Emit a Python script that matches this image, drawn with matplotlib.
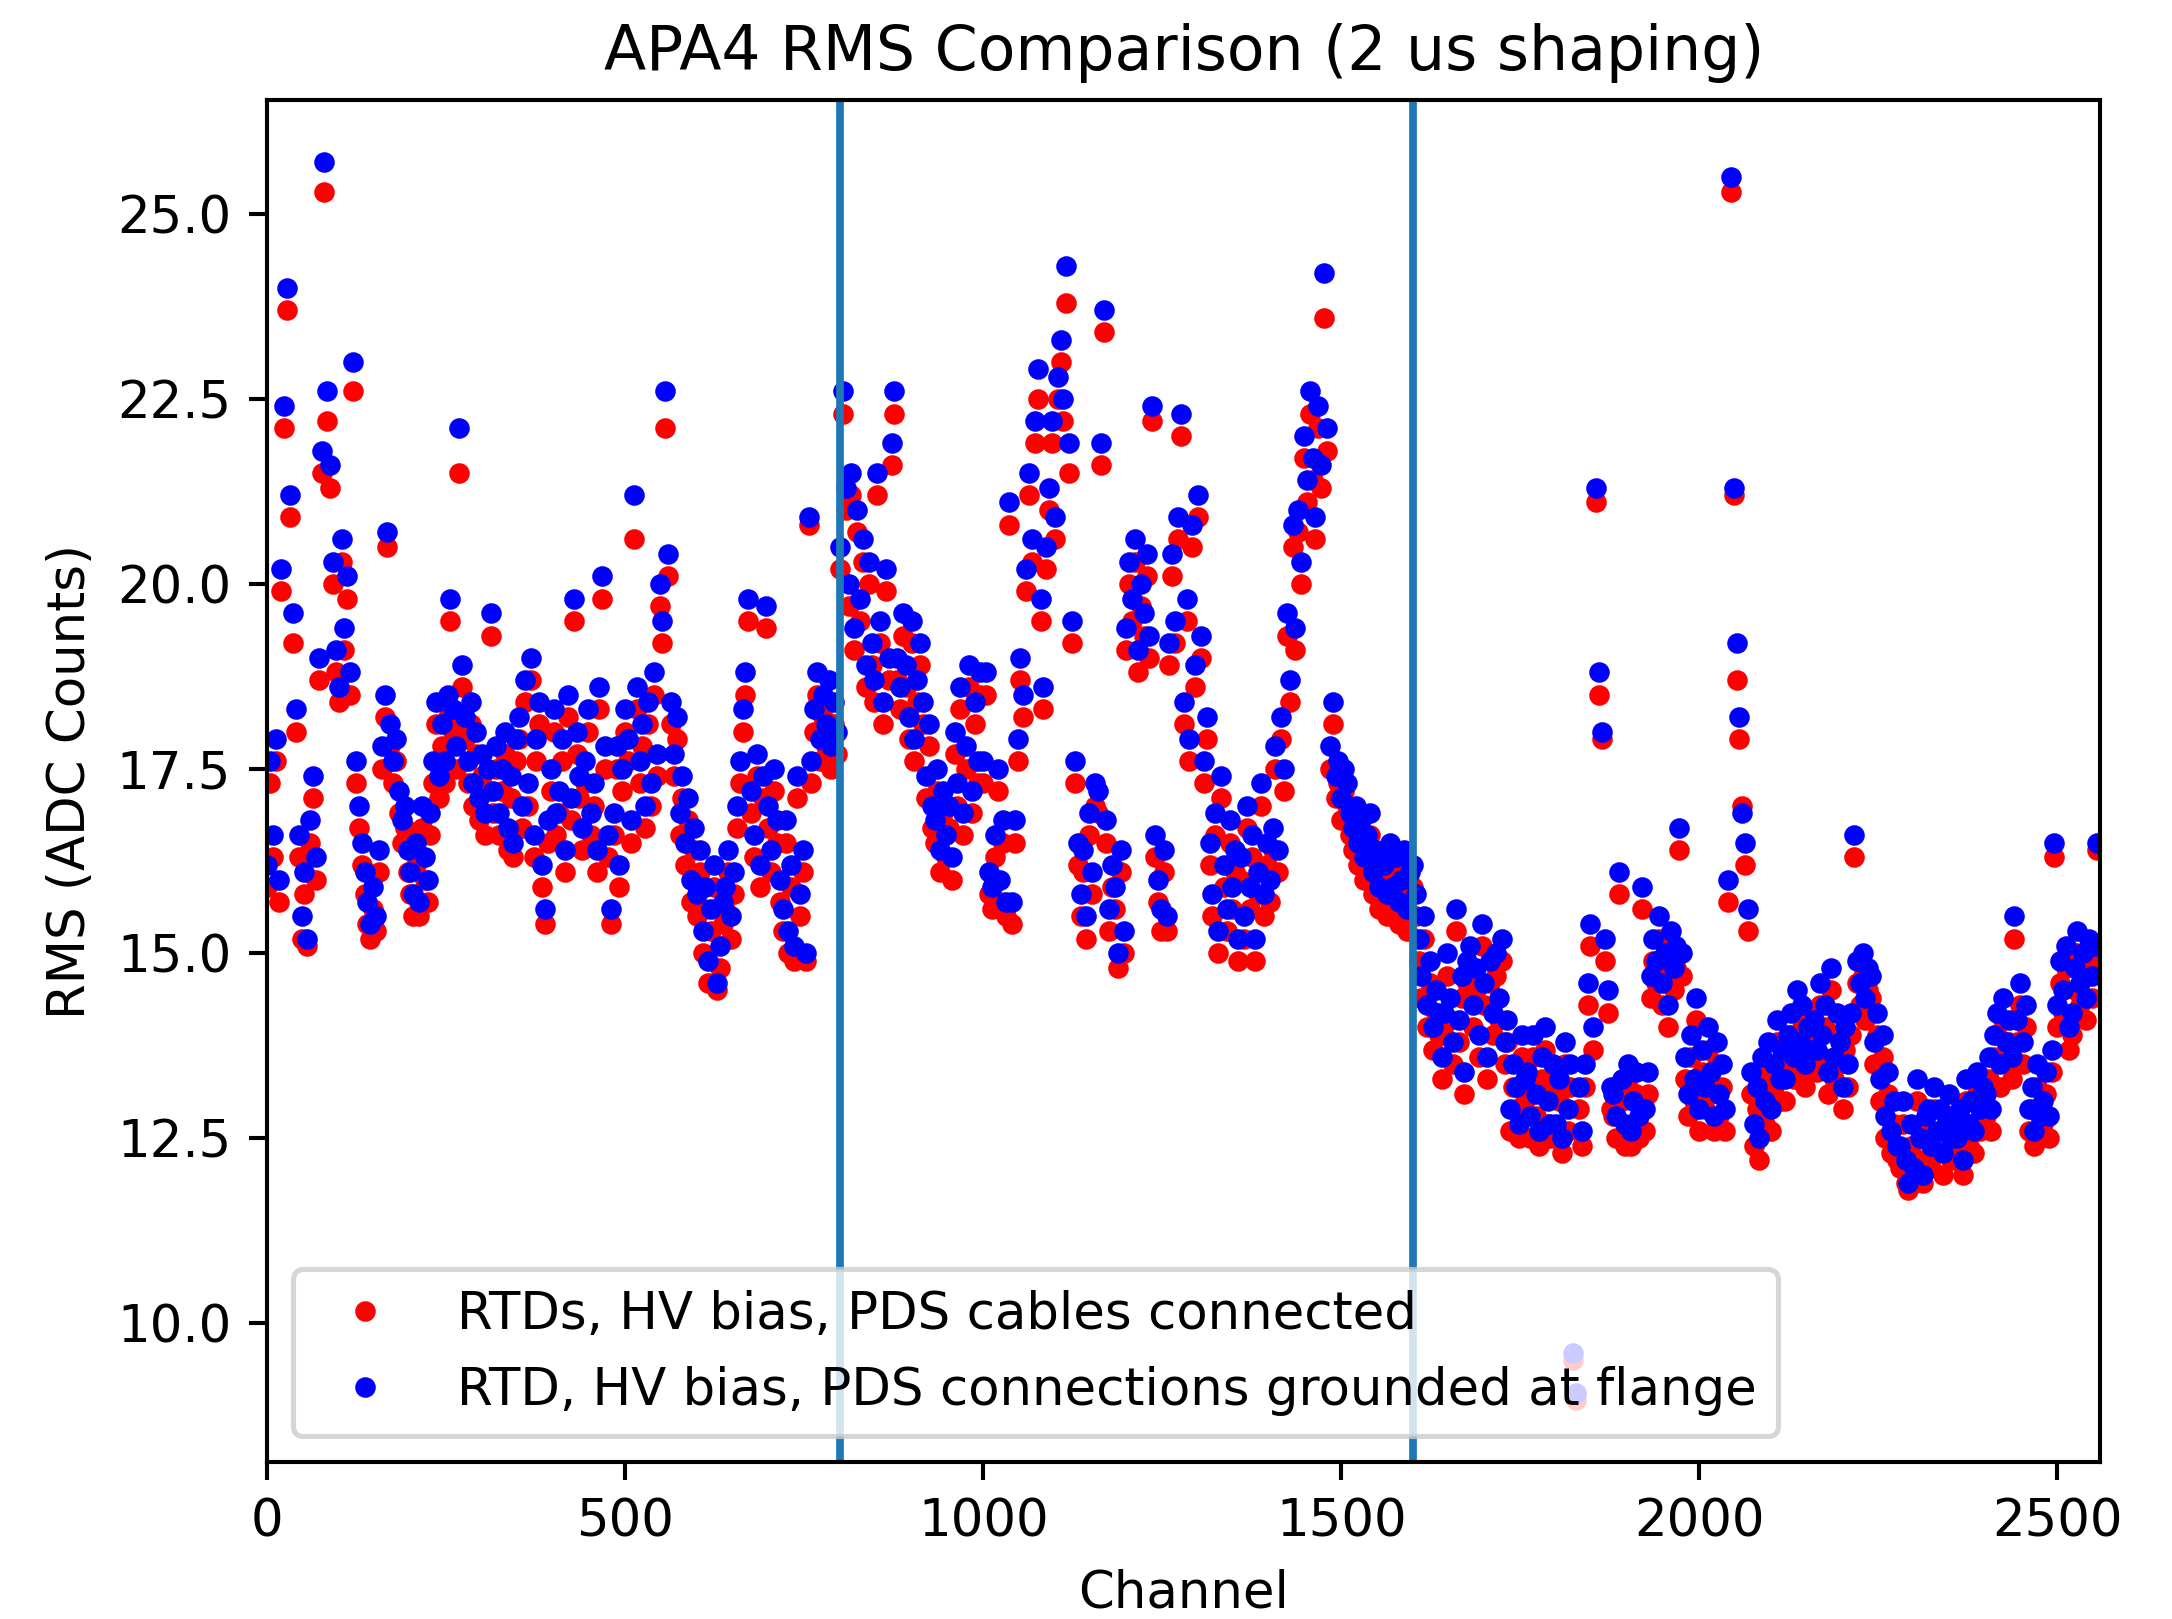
import numpy as np
import matplotlib
matplotlib.use("Agg")
import matplotlib.pyplot as plt

# Channel numbers (sampled every 4 channels)
channels = list(range(0, 2560, 4))

# ---- Blue: RTD, HV bias, PDS connections grounded at flange ----
blue_u = [
    16.2, 17.6, 16.6, 17.9, 16.0, 20.2, 22.4, 24.0, 21.2, 19.6,
    18.3, 16.6, 15.5, 16.1, 15.2, 16.8, 17.4, 16.3, 19.0, 21.8,
    25.7, 22.6, 21.6, 20.3, 19.1, 18.6, 20.6, 19.4, 20.1, 18.8,
    23.0, 17.6, 17.0, 16.5, 16.1, 15.7, 15.4, 15.9, 15.5, 16.4,
    17.8, 18.5, 20.7, 18.1, 17.6, 17.9, 17.2, 16.8, 17.0, 16.4,
    16.1, 15.8, 16.5, 15.7, 17.0, 16.3, 16.0, 16.9, 17.6, 18.4,
    17.4, 18.1, 17.6, 18.5, 19.8, 18.3, 17.8, 22.1, 18.9, 18.2,
    17.6, 18.4, 17.3, 18.0, 17.1, 17.7, 16.9, 17.5, 19.6, 17.2,
    17.8, 16.9, 17.5, 18.0, 16.7, 17.4, 16.5, 17.9, 18.2, 17.0,
    18.7, 17.3, 19.0, 16.6, 17.9, 18.4, 16.2, 15.6, 16.8, 17.5,
    18.3, 16.9, 17.2, 17.9, 16.4, 18.5, 17.1, 19.8, 18.0, 17.4,
    16.7, 17.6, 18.3, 16.9, 17.3, 16.4, 18.6, 20.1, 17.8, 16.6,
    15.6, 16.9, 17.8, 16.2, 17.5, 18.3, 17.9, 16.8, 21.2, 18.6,
    17.6, 18.1, 17.0, 18.4, 17.3, 18.8, 17.7, 20.0, 19.5, 22.6,
    20.4, 18.4, 17.7, 18.2, 16.9, 17.4, 16.5, 17.1, 16.0, 16.7,
    15.8, 16.4, 15.3, 15.9, 14.9, 15.6, 16.2, 14.6, 15.1, 15.7,
    15.9, 16.4, 15.5, 16.1, 17.0, 17.6, 18.3, 18.8, 19.8, 17.2,
    16.6, 17.7, 16.2, 17.4, 19.7, 17.0, 16.4, 17.5, 16.8, 16.0,
    15.6, 16.8, 15.3, 16.2, 15.1, 17.4, 15.8, 16.4, 15.0, 20.9,
    17.6, 18.3, 18.8, 17.9, 18.5, 18.1, 18.7, 17.8, 18.4, 18.0,
]
blue_v = [
    20.5, 22.6, 21.3, 20.0, 21.5, 19.4, 21.0, 19.8, 20.6, 18.9,
    20.3, 19.2, 18.7, 21.5, 19.5, 18.4, 20.2, 19.0, 21.9, 22.6,
    19.0, 18.6, 19.6, 18.9, 18.2, 19.5, 17.9, 18.7, 19.2, 18.4,
    17.4, 18.1, 17.0, 16.8, 17.5, 16.4, 17.2, 16.6, 17.0, 16.3,
    18.0, 17.3, 18.6, 16.9, 17.8, 18.9, 17.2, 18.4, 17.6, 18.8,
    17.6, 18.8, 16.1, 15.9, 16.6, 17.5, 16.0, 16.8, 15.7, 21.1,
    15.7, 16.8, 17.9, 19.0, 18.5, 20.2, 21.5, 20.6, 22.2, 22.9,
    19.8, 18.6, 20.5, 21.3, 22.2, 20.9, 22.8, 23.3, 22.5, 24.3,
    21.9, 19.5, 17.6, 16.5, 15.8, 16.4, 15.5, 16.9, 16.1, 17.3,
    17.2, 21.9, 23.7, 16.8, 15.6, 16.2, 15.9, 15.0, 16.4, 15.3,
    19.4, 20.3, 19.8, 20.6, 19.1, 20.0, 19.6, 20.4, 19.3, 22.4,
    16.6, 16.0, 15.6, 16.4, 15.5, 19.2, 20.4, 19.5, 20.9, 22.3,
    18.4, 19.8, 17.9, 20.8, 18.9, 21.2, 19.3, 17.6, 18.2, 16.5,
    15.8, 16.9, 15.3, 17.4, 16.2, 15.6, 16.8, 15.9, 16.4, 15.2,
    16.3, 15.5, 17.0, 15.9, 16.6, 15.2, 16.1, 17.3, 15.8, 16.5,
    16.0, 16.7, 17.8, 16.4, 18.2, 17.5, 19.6, 18.7, 20.8, 19.4,
    21.0, 20.3, 22.0, 21.4, 22.6, 21.7, 20.9, 22.4, 21.6, 24.2,
    22.1, 17.8, 18.4, 17.4, 17.6, 17.1, 17.5, 17.3, 16.9, 16.7,
    17.0, 16.5, 16.8, 16.3, 16.6, 16.9, 16.1, 16.4, 15.9, 16.3,
    16.2, 15.8, 16.5, 15.9, 16.3, 15.7, 16.0, 16.4, 15.6, 16.1,
]
blue_x = [
    16.2, 15.8, 15.2, 14.7, 15.5, 14.3, 14.9, 14.0, 14.5, 14.2,
    13.6, 14.2, 15.0, 14.4, 13.8, 15.6, 14.1, 14.7, 13.4, 14.9,
    15.1, 14.3, 14.8, 13.9, 15.4, 14.6, 13.6, 14.9, 14.2, 15.0,
    14.4, 15.2, 13.8, 14.1, 12.9, 13.5, 13.2, 12.7, 13.9, 13.3,
    13.4, 12.8, 13.9, 13.1, 12.6, 13.6, 14.0, 13.0, 12.7, 13.5,
    12.7, 13.3, 12.5, 13.8, 12.9, 13.5, 9.6, 9.05, 13.2, 12.6,
    13.5, 14.6, 15.4, 14.0, 21.3, 18.8, 18.0, 15.2, 14.5, 13.2,
    13.1, 12.8, 16.1, 13.3, 12.7, 13.5, 12.6, 13.0, 13.4, 12.8,
    15.9, 12.9, 13.4, 14.7, 15.2, 14.9, 15.5, 14.6, 15.0, 14.3,
    15.3, 14.8, 15.1, 16.7, 15.0, 13.6, 13.1, 13.9, 13.3, 14.4,
    12.9, 13.7, 13.2, 14.0, 13.4, 12.8, 13.8, 13.1, 13.5, 12.9,
    16.0, 25.5, 21.3, 19.2, 18.2, 16.9, 16.5, 15.6, 13.4, 12.7,
    13.2, 12.5, 13.6, 13.0, 13.8, 12.9, 13.5, 14.1, 13.3, 13.7,
    13.3, 13.9, 14.2, 13.6, 14.5, 13.8, 14.3, 13.5, 14.0, 13.7,
    14.1, 13.7, 14.6, 13.9, 14.3, 13.4, 14.8, 13.6, 14.2, 13.8,
    13.2, 14.0, 13.5, 14.2, 16.6, 14.9, 14.6, 15.0, 14.4, 14.8,
    14.7, 13.8, 14.2, 13.3, 13.9, 12.8, 13.4, 12.6, 13.0, 12.4,
    12.4, 13.0, 12.2, 11.9, 12.7, 12.1, 13.3, 12.5, 12.0, 12.8,
    12.9, 12.4, 13.2, 12.6, 12.9, 12.3, 12.8, 13.1, 12.5, 12.7,
    12.5, 12.9, 12.2, 13.3, 12.7, 13.0, 12.6, 13.4, 12.9, 13.2,
    13.1, 13.6, 12.9, 13.9, 14.2, 13.5, 14.4, 13.8, 14.1, 13.6,
    15.5, 14.1, 14.6, 13.8, 14.3, 12.9, 13.2, 12.6, 13.5, 12.8,
    13.0, 13.4, 12.8, 13.7, 16.5, 14.3, 14.9, 14.5, 15.1, 14.0,
    14.2, 14.8, 15.3, 14.6, 15.0, 14.4, 15.2, 14.7, 15.1, 16.5,
]

# ---- Red: RTDs, HV bias, PDS cables connected ----
red_u = [
    15.9, 17.3, 16.3, 17.6, 15.7, 19.9, 22.1, 23.7, 20.9, 19.2,
    18.0, 16.3, 15.2, 15.8, 15.1, 16.5, 17.1, 16.0, 18.7, 21.5,
    25.3, 22.2, 21.3, 20.0, 18.8, 18.4, 20.3, 19.1, 19.8, 18.5,
    22.6, 17.3, 16.7, 16.2, 15.8, 15.4, 15.2, 15.6, 15.3, 16.1,
    17.5, 18.2, 20.5, 17.8, 17.3, 17.6, 16.9, 16.5, 16.7, 16.1,
    15.8, 15.5, 16.2, 15.5, 16.7, 16.0, 15.7, 16.6, 17.3, 18.1,
    17.1, 17.8, 17.3, 18.2, 19.5, 18.0, 17.5, 21.5, 18.6, 17.9,
    17.3, 18.1, 17.0, 17.7, 16.8, 17.4, 16.6, 17.2, 19.3, 16.9,
    17.5, 16.6, 17.2, 17.7, 16.4, 17.1, 16.3, 17.6, 17.9, 16.7,
    18.4, 17.0, 18.7, 16.3, 17.6, 18.1, 15.9, 15.4, 16.5, 17.2,
    18.0, 16.6, 16.9, 17.6, 16.1, 18.2, 16.8, 19.5, 17.7, 17.1,
    16.4, 17.3, 18.0, 16.6, 17.0, 16.1, 18.3, 19.8, 17.5, 16.3,
    15.4, 16.6, 17.5, 15.9, 17.2, 18.0, 17.6, 16.5, 20.6, 18.3,
    17.3, 17.8, 16.7, 18.1, 17.0, 18.5, 17.4, 19.7, 19.2, 22.1,
    20.1, 18.1, 17.4, 17.9, 16.6, 17.1, 16.2, 16.8, 15.7, 16.4,
    15.5, 16.1, 15.0, 15.6, 14.6, 15.3, 15.9, 14.5, 14.8, 15.4,
    15.6, 16.1, 15.2, 15.8, 16.7, 17.3, 18.0, 18.5, 19.5, 16.9,
    16.3, 17.4, 15.9, 17.1, 19.4, 16.7, 16.1, 17.2, 16.5, 15.7,
    15.3, 16.5, 15.0, 15.9, 14.9, 17.1, 15.5, 16.1, 14.9, 20.8,
    17.3, 18.0, 18.5, 17.6, 18.2, 17.8, 18.4, 17.5, 18.1, 17.7,
]
red_v = [
    20.2, 22.3, 21.0, 19.7, 21.2, 19.1, 20.7, 19.5, 20.3, 18.6,
    20.0, 18.9, 18.4, 21.2, 19.2, 18.1, 19.9, 18.7, 21.6, 22.3,
    18.7, 18.3, 19.3, 18.6, 17.9, 19.2, 17.6, 18.4, 18.9, 18.1,
    17.1, 17.8, 16.7, 16.5, 17.2, 16.1, 16.9, 16.3, 16.7, 16.0,
    17.7, 17.0, 18.3, 16.6, 17.5, 18.6, 16.9, 18.1, 17.3, 18.5,
    17.3, 18.5, 15.8, 15.6, 16.3, 17.2, 15.7, 16.5, 15.5, 20.8,
    15.4, 16.5, 17.6, 18.7, 18.2, 19.9, 21.2, 20.3, 21.9, 22.5,
    19.5, 18.3, 20.2, 21.0, 21.9, 20.6, 22.5, 23.0, 22.2, 23.8,
    21.5, 19.2, 17.3, 16.2, 15.5, 16.1, 15.2, 16.6, 15.8, 17.0,
    16.9, 21.6, 23.4, 16.5, 15.3, 15.9, 15.6, 14.8, 16.1, 15.0,
    19.1, 20.0, 19.5, 20.3, 18.8, 19.7, 19.3, 20.1, 19.0, 22.2,
    16.3, 15.7, 15.3, 16.1, 15.3, 18.9, 20.1, 19.2, 20.6, 22.0,
    18.1, 19.5, 17.6, 20.5, 18.6, 20.9, 19.0, 17.3, 17.9, 16.2,
    15.5, 16.6, 15.0, 17.1, 15.9, 15.3, 16.5, 15.6, 16.1, 14.9,
    16.0, 15.2, 16.7, 15.6, 16.3, 14.9, 15.8, 17.0, 15.5, 16.2,
    15.7, 16.4, 17.5, 16.1, 17.9, 17.2, 19.3, 18.4, 20.5, 19.1,
    20.7, 20.0, 21.7, 21.1, 22.3, 21.4, 20.6, 22.1, 21.3, 23.6,
    21.8, 17.5, 18.1, 17.1, 17.3, 16.8, 17.2, 17.0, 16.6, 16.4,
    16.7, 16.2, 16.5, 16.0, 16.3, 16.6, 15.8, 16.1, 15.6, 16.0,
    15.9, 15.5, 16.2, 15.6, 16.0, 15.4, 15.7, 16.1, 15.3, 15.8,
]
red_x = [
    15.9, 15.5, 14.9, 14.4, 15.2, 14.0, 14.6, 13.7, 14.2, 13.9,
    13.3, 13.9, 14.7, 14.1, 13.5, 15.3, 13.8, 14.4, 13.1, 14.6,
    14.8, 14.0, 14.5, 13.6, 15.1, 14.3, 13.3, 14.6, 13.9, 14.7,
    14.1, 14.9, 13.5, 13.8, 12.6, 13.2, 12.9, 12.5, 13.6, 13.0,
    13.1, 12.5, 13.6, 12.8, 12.4, 13.3, 13.7, 12.7, 12.5, 13.2,
    12.5, 13.0, 12.3, 13.5, 12.6, 13.2, 9.5, 8.96, 12.9, 12.4,
    13.2, 14.3, 15.1, 13.7, 21.1, 18.5, 17.9, 14.9, 14.2, 12.9,
    12.8, 12.5, 15.8, 13.0, 12.4, 13.2, 12.4, 12.7, 13.1, 12.5,
    15.6, 12.6, 13.1, 14.4, 14.9, 14.6, 15.2, 14.3, 14.7, 14.0,
    15.0, 14.5, 14.8, 16.4, 14.7, 13.3, 12.8, 13.6, 13.0, 14.1,
    12.6, 13.4, 12.9, 13.7, 13.1, 12.6, 13.5, 12.8, 13.2, 12.6,
    15.7, 25.3, 21.2, 18.7, 17.9, 17.0, 16.2, 15.3, 13.1, 12.4,
    12.9, 12.2, 13.3, 12.7, 13.5, 12.6, 13.2, 13.8, 13.0, 13.4,
    13.0, 13.6, 13.9, 13.3, 14.2, 13.5, 14.0, 13.2, 13.7, 13.4,
    13.8, 13.4, 14.3, 13.6, 14.0, 13.1, 14.5, 13.3, 13.9, 13.5,
    12.9, 13.7, 13.2, 13.9, 16.3, 14.6, 14.3, 14.7, 14.1, 14.5,
    14.4, 13.5, 13.9, 13.0, 13.6, 12.5, 13.1, 12.3, 12.7, 12.2,
    12.1, 12.7, 11.9, 11.8, 12.4, 11.9, 13.0, 12.2, 11.9, 12.5,
    12.6, 12.1, 12.9, 12.3, 12.6, 12.0, 12.5, 12.8, 12.2, 12.4,
    12.2, 12.6, 12.0, 13.0, 12.4, 12.7, 12.3, 13.1, 12.6, 12.9,
    12.8, 13.3, 12.6, 13.6, 13.9, 13.2, 14.1, 13.5, 13.8, 13.3,
    15.2, 13.8, 14.3, 13.5, 14.0, 12.6, 12.9, 12.4, 13.2, 12.5,
    12.7, 13.1, 12.5, 13.4, 16.3, 14.0, 14.6, 14.2, 14.8, 13.7,
    13.9, 14.5, 15.0, 14.3, 14.7, 14.1, 14.9, 14.4, 14.8, 16.4,
]

plane_boundaries = [800, 1600]

red_label = "RTDs, HV bias, PDS cables connected"
blue_label = "RTD, HV bias, PDS connections grounded at flange"

red_all = red_u + red_v + red_x
blue_all = blue_u + blue_v + blue_x

DPI = 370.0
fig = plt.figure(figsize=(2172 / DPI, 1619 / DPI), dpi=DPI)
ax = fig.add_subplot(111)
fig.subplots_adjust(left=0.123, right=0.967, bottom=0.097, top=0.938)

ax.plot(channels, red_all, "r.", label=red_label)
ax.plot(channels, blue_all, "b.", label=blue_label)
for b in plane_boundaries:
    ax.axvline(b)

ax.set_xlim(0, 2560)
ax.set_title("APA4 RMS Comparison (2 us shaping)")
ax.set_xlabel("Channel")
ax.set_ylabel("RMS (ADC Counts)")
ax.legend(loc="lower left")

fig.savefig("out.png", dpi=DPI)
